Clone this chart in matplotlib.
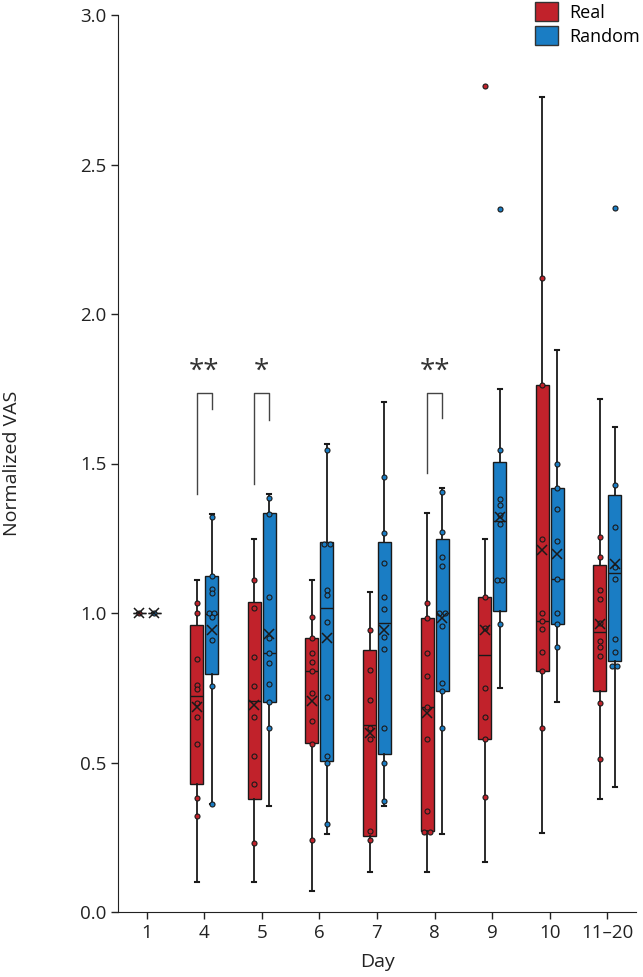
import numpy as np
import matplotlib
matplotlib.use('Agg')
import matplotlib.pyplot as plt
from matplotlib.patches import Patch

plt.rcParams['font.family'] = ['Open Sans', 'DejaVu Sans']

days = ['1', '4', '5', '6', '7', '8', '9', '10', '11–20']

# box stats: whisker low, q1, median, q3, whisker high, mean
real_lo = [1.0, 0.101, 0.101, 0.070, 0.134, 0.133, 0.168, 0.263, 0.378]
real_q1 = [1.0, 0.427, 0.377, 0.564, 0.255, 0.272, 0.579, 0.807, 0.739]
real_med = [1.0, 0.722, 0.706, 0.807, 0.625, 0.687, 0.860, 0.974, 0.935]
real_q3 = [1.0, 0.960, 1.038, 0.917, 0.876, 0.982, 1.052, 1.763, 1.161]
real_hi = [1.0, 1.110, 1.247, 1.110, 1.071, 1.333, 1.247, 2.725, 1.715]
real_mean = [1.0, 0.687, 0.693, 0.707, 0.597, 0.665, 0.943, 1.211, 0.963]

rand_lo = [1.0, 0.360, 0.355, 0.260, 0.356, 0.260, 0.750, 0.703, 0.419]
rand_q1 = [1.0, 0.795, 0.703, 0.506, 0.528, 0.739, 1.007, 0.964, 0.841]
rand_med = [1.0, 0.998, 0.865, 1.016, 0.965, 1.000, 1.308, 1.114, 1.133]
rand_q3 = [1.0, 1.124, 1.333, 1.239, 1.239, 1.246, 1.504, 1.419, 1.395]
rand_hi = [1.0, 1.330, 1.397, 1.564, 1.707, 1.417, 1.748, 1.880, 1.623]
rand_mean = [1.0, 0.943, 0.930, 0.915, 0.943, 0.982, 1.322, 1.197, 1.163]

real_pts = [
    [1.0],
    [1.033, 1.0, 0.845, 0.759, 0.745, 0.698, 0.653, 0.562, 0.380, 0.321],
    [1.110, 1.016, 0.854, 0.756, 0.651, 0.521, 0.427, 0.232],
    [0.988, 0.917, 0.865, 0.837, 0.807, 0.731, 0.640, 0.562, 0.241],
    [0.943, 0.810, 0.709, 0.615, 0.577, 0.271, 0.241],
    [1.035, 0.982, 0.865, 0.790, 0.687, 0.577, 0.339, 0.269, 0.269],
    [2.763, 1.052, 0.950, 0.748, 0.653, 0.579, 0.386],
    [2.119, 1.763, 1.249, 0.999, 0.972, 0.947, 0.871, 0.807, 0.614],
    [1.255, 1.188, 1.077, 1.047, 0.965, 0.907, 0.885, 0.857, 0.700, 0.512],
]
rand_pts = [
    [1.0],
    [1.320, 1.124, 1.080, 1.067, 1.0, 1.0, 0.986, 0.910, 0.756, 0.360],
    [1.386, 1.331, 1.055, 0.915, 0.865, 0.834, 0.761, 0.703, 0.614],
    [1.545, 1.232, 1.232, 1.077, 1.060, 0.971, 0.720, 0.522, 0.500, 0.295],
    [1.456, 1.266, 1.166, 1.055, 1.012, 0.919, 0.880, 0.614, 0.500, 0.370],
    [1.406, 1.270, 1.188, 1.158, 1.0, 1.0, 0.957, 0.765, 0.739, 0.614],
    [2.350, 1.545, 1.380, 1.361, 1.327, 1.297, 1.110, 1.110, 0.962],
    [1.497, 1.419, 1.347, 1.242, 1.114, 0.999, 0.964, 0.887],
    [2.353, 1.428, 1.288, 1.153, 1.113, 0.912, 0.868, 0.824, 0.824],
]

# significance brackets: day index, left leg bottom, top, right leg bottom, label
sig_day = [1, 2, 5]
sig_left = [1.397, 1.431, 1.467]
sig_top = [1.737, 1.737, 1.737]
sig_right = [1.681, 1.645, 1.651]
sig_text = ['**', '*', '**']

red = '#C1222B'
blue = '#1A7DC4'

fig = plt.figure(figsize=(6.43, 9.77), dpi=100)
ax = fig.add_axes([118 / 643, 65 / 977, 518 / 643, 897 / 977])

off = 0.13
bw = 0.225
x = np.arange(len(days))


def stats(lo, q1, med, q3, hi, mean):
    return [dict(whislo=a, q1=b, med=c, q3=d, whishi=e, mean=f, fliers=[])
            for a, b, c, d, e, f in zip(lo, q1, med, q3, hi, mean)]


def draw(st, pos, color, pts):
    ax.bxp(st, positions=pos, widths=bw, patch_artist=True, showmeans=True,
           capwidths=0.07, manage_ticks=False,
           boxprops=dict(facecolor=color, edgecolor='#1a1a1a', linewidth=1.0),
           medianprops=dict(color='#1a1a1a', linewidth=1.0),
           whiskerprops=dict(color='#1a1a1a', linewidth=1.3),
           capprops=dict(color='#1a1a1a', linewidth=1.5),
           meanprops=dict(marker='x', markeredgecolor='#1a1a1a', markersize=7,
                          markeredgewidth=1.1, zorder=5))
    for p, vals in zip(pos, pts):
        vals = np.array(vals)
        xs = np.full(len(vals), p, dtype=float)
        for v in np.unique(vals):
            idx = np.where(np.isclose(vals, v))[0]
            if len(idx) > 1:
                xs[idx] = p + (np.arange(len(idx)) - (len(idx) - 1) / 2) * 0.09
        ax.scatter(xs, vals, s=13, facecolor=color, edgecolor='#1a1a1a',
                   linewidth=0.8, zorder=4)


draw(stats(real_lo, real_q1, real_med, real_q3, real_hi, real_mean), x - off, red, real_pts)
draw(stats(rand_lo, rand_q1, rand_med, rand_q3, rand_hi, rand_mean), x + off, blue, rand_pts)

for d, l, t, r, s in zip(sig_day, sig_left, sig_top, sig_right, sig_text):
    ax.plot([d - off, d - off, d + off, d + off], [l, t, t, r], color='#444444', lw=1.0)
    ax.text(d, 1.807, s, ha='center', va='center', fontsize=20, color='#333333')

ax.set_xlim(-0.5, len(days) - 0.5)
ax.set_ylim(0, 3.0)
ax.set_xticks(x)
ax.set_xticklabels(days)
ax.set_yticks(np.arange(0, 3.01, 0.5))
ax.set_yticklabels([f'{v:.1f}' for v in np.arange(0, 3.01, 0.5)])
ax.tick_params(labelsize=13.5, colors='#222222', length=5, width=1, direction='out', pad=3.5)
ax.spines['top'].set_visible(False)
ax.spines['right'].set_visible(False)
ax.spines['left'].set_color('#222222')
ax.spines['bottom'].set_color('#222222')
ax.set_xlabel('Day', fontsize=14, color='#222222')
ax.xaxis.set_label_coords(0.5, -50 / 897)
ax.xaxis.label.set_verticalalignment('center')
ax.set_ylabel('Normalized VAS', fontsize=14, color='#222222')
ax.yaxis.set_label_coords(-106 / 518, 0.5)
ax.yaxis.label.set_verticalalignment('center')

handles = [Patch(facecolor=red, edgecolor='#333333', label='Real'),
           Patch(facecolor=blue, edgecolor='#333333', label='Random')]
fig.legend(handles=handles, loc='upper left', bbox_to_anchor=(535 / 643, 1 - 2 / 977),
           frameon=False, fontsize=13, borderpad=0, handlelength=1.3,
           handleheight=1.25, labelspacing=0.25, handletextpad=0.6, borderaxespad=0)

fig.savefig('out.png', dpi=100)
